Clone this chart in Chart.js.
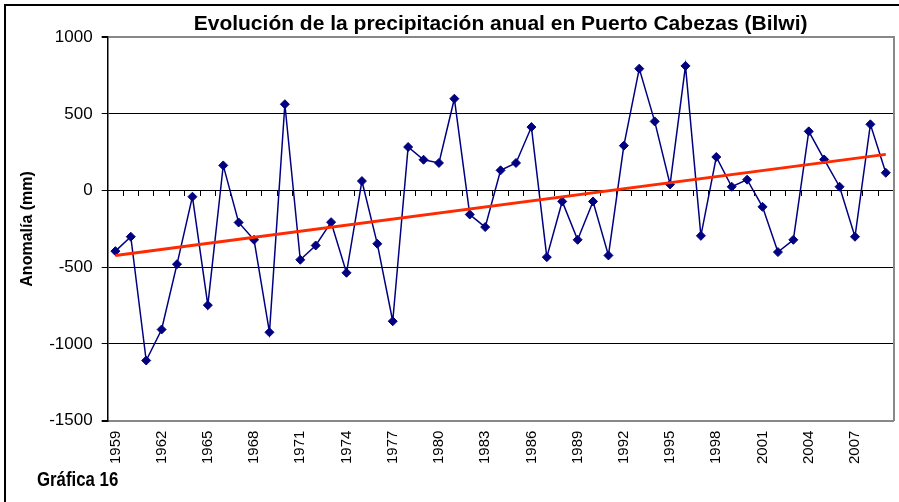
<!DOCTYPE html>
<html>

<head>
    <meta charset="UTF-8">
    <title>Precipitación anual Puerto Cabezas</title>
    <script src="https://cdn.jsdelivr.net/npm/chart.js"></script>
    <style>
        body {
            margin: 0;
            background: #fff;
            overflow: hidden;
        }

        #wrap {
            position: relative;
            width: 899px;
            height: 502px;
        }

        #frame {
            position: absolute;
            left: 4px;
            top: 4px;
            width: 1000px;
            height: 600px;
            border-left: 2px solid #000;
            border-top: 2px solid #000;
        }

        #caption {
            position: absolute;
            left: 37px;
            top: 468px;
            font: bold 21px "Liberation Sans", Arial, sans-serif;
            line-height: 1;
            transform: scaleX(0.8);
            transform-origin: left top;
        }

        canvas {
            position: absolute;
            left: 0;
            top: 0;
        }
    </style>
</head>

<body>
    <div id="wrap">
        <div id="frame"></div>
        <canvas id="rainChart" width="899" height="502"></canvas>
        <div id="caption">Gráfica 16</div>
    </div>

    <script>
        // anomalías anuales (mm), 1959 - 2009
        const years = [];
        for (let y = 1959; y <= 2009; y++) years.push(String(y));

        const anomalies = [
            -395, -301, -1108, -906, -480, -40, -747, 164, -208, -321,
            -924, 563, -451, -358, -206, -536, 62, -347, -852, 284,
            201, 180, 599, -156, -238, 132, 180, 414, -434, -71,
            -321, -71, -423, 293, 795, 451, 40, 813, -295, 219,
            25, 71, -106, -401, -321, 386, 203, 25, -301, 432,
            116
        ];

        // tendencia lineal: valores en el primer y último año
        const trendStart = -423;
        const trendEnd = 236;

        const tickLabels = ['1959', '1962', '1965', '1968', '1971', '1974', '1977', '1980',
            '1983', '1986', '1989', '1992', '1995', '1998', '2001', '2004', '2007'];
        const yTicks = [1000, 500, 0, -500, -1000, -1500];

        const trendData = years.map((_, i) => i === 0 ? trendStart : (i === years.length - 1 ? trendEnd : null));

        Chart.defaults.font.family = '"Liberation Sans", Arial, sans-serif';
        Chart.defaults.color = '#000';

        const isEdge = (c) => c.tick && (c.tick.value === 1000 || c.tick.value === -1500);

        const ctx = document.getElementById('rainChart').getContext('2d');
        const rainChart = new Chart(ctx, {
            type: 'line',
            data: {
                labels: years,
                datasets: [{
                    label: 'Tendencia',
                    data: trendData,
                    spanGaps: true,
                    borderColor: '#ff2a00',
                    borderWidth: 3,
                    pointRadius: 0,
                    fill: false,
                    order: 0,
                    xAxisID: 'x',
                    yAxisID: 'y'
                }, {
                    label: 'Anomalía',
                    data: anomalies,
                    borderColor: '#000080',
                    borderWidth: 1.5,
                    pointStyle: 'rectRot',
                    pointRadius: 4.5,
                    pointBorderWidth: 1,
                    pointBackgroundColor: '#000080',
                    pointBorderColor: '#000080',
                    fill: false,
                    tension: 0,
                    order: 1,
                    xAxisID: 'x',
                    yAxisID: 'y'
                }]
            },
            options: {
                responsive: false,
                animation: false,
                layout: {
                    padding: { left: 6, right: 1, top: 0, bottom: 28 }
                },
                plugins: {
                    legend: { display: false },
                    tooltip: { enabled: false },
                    title: {
                        display: true,
                        text: 'Evolución de la precipitación anual en Puerto Cabezas (Bilwi)',
                        fullSize: false,
                        font: { size: 21, weight: 'bold' },
                        padding: { top: 12, bottom: 0 }
                    }
                },
                scales: {
                    x: {
                        type: 'category',
                        offset: true,
                        grid: { display: false, drawTicks: false },
                        border: { color: '#888', width: 2 },
                        ticks: {
                            autoSkip: false,
                            minRotation: 90,
                            maxRotation: 90,
                            padding: 10,
                            font: { size: 15 },
                            callback: function (value) {
                                const lab = this.getLabelForValue(value);
                                return tickLabels.includes(lab) ? lab : null;
                            }
                        }
                    },
                    x2: {
                        type: 'category',
                        axis: 'x',
                        position: { y: 0 },
                        offset: true,
                        grid: {
                            offset: true,
                            drawOnChartArea: false,
                            tickLength: 5,
                            color: '#000',
                            tickColor: '#000'
                        },
                        border: { color: '#000', width: 1 },
                        ticks: { display: false }
                    },
                    y: {
                        min: -1500,
                        max: 1000,
                        afterBuildTicks: (scale) => {
                            scale.ticks = yTicks.map(v => ({ value: v }));
                        },
                        grid: {
                            color: (c) => isEdge(c) ? '#888' : '#000',
                            lineWidth: (c) => isEdge(c) ? 2 : 1,
                            tickColor: '#000',
                            tickLength: 6
                        },
                        border: { color: '#000', width: 1.5 },
                        ticks: {
                            padding: 9,
                            font: { size: 17 },
                            callback: (v) => String(v)
                        },
                        title: {
                            display: true,
                            text: 'Anomalía (mm)',
                            font: { size: 16, weight: 'bold' },
                            padding: { top: 12, bottom: 3 }
                        }
                    },
                    y2: {
                        position: 'right',
                        axis: 'y',
                        grid: { display: false, drawTicks: false },
                        border: { color: '#888', width: 2 },
                        ticks: { display: false }
                    }
                }
            }
        });
    </script>
</body>

</html>
